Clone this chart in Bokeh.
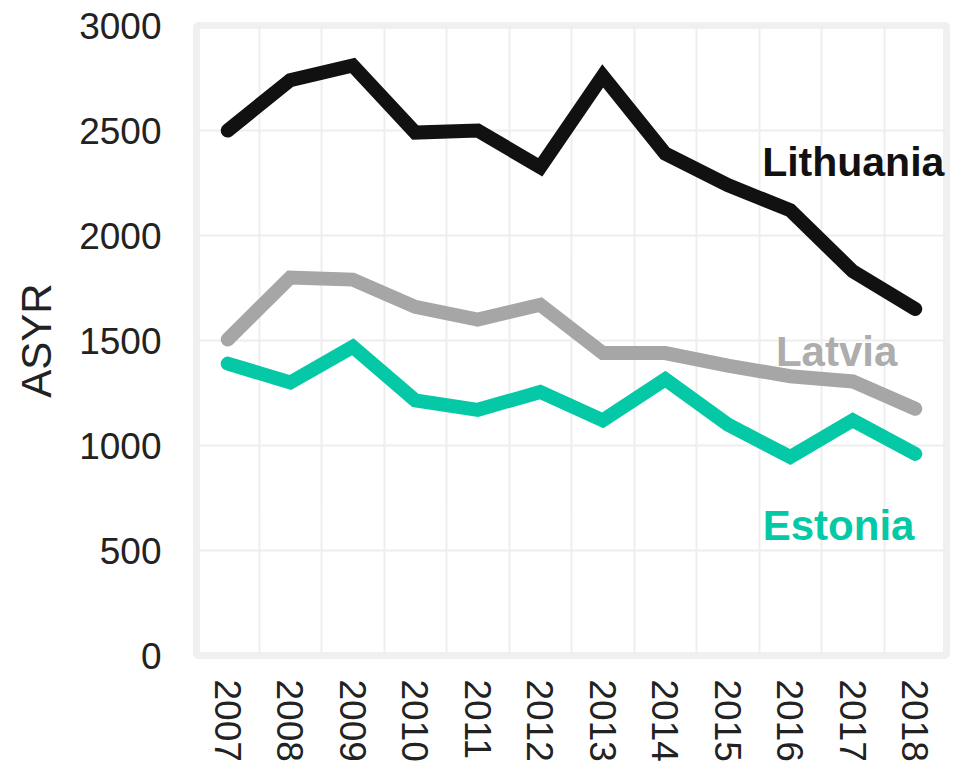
from bokeh.plotting import figure
from bokeh.models import Range1d, FixedTicker, Label
from bokeh.embed import file_html
from bokeh.resources import INLINE

years = [2007, 2008, 2009, 2010, 2011, 2012, 2013, 2014, 2015, 2016, 2017, 2018]
lithuania = [2500, 2740, 2810, 2490, 2500, 2325, 2760, 2390, 2240, 2120, 1830, 1650]
latvia = [1505, 1800, 1790, 1660, 1600, 1670, 1440, 1440, 1380, 1330, 1305, 1175]
estonia = [1390, 1300, 1470, 1215, 1170, 1255, 1120, 1315, 1100, 945, 1120, 960]
y_ticks = [0, 500, 1000, 1500, 2000, 2500, 3000]

FONT = "Liberation Sans"

p = figure(frame_width=750, frame_height=630, output_backend="svg",
           toolbar_location=None,
           x_range=Range1d(years[0] - 0.5, years[-1] + 0.5),
           y_range=Range1d(y_ticks[0], y_ticks[-1]))
p.margin = (0, 0, 0, 10)
p.min_border_top = 25
p.min_border_right = 22
p.min_border_left = 0
p.min_border_bottom = 0
p.background_fill_color = "white"
p.border_fill_color = "white"
p.outline_line_color = "#f0f0f0"
p.outline_line_width = 7

p.xaxis.ticker = FixedTicker(ticks=years)
p.yaxis.ticker = FixedTicker(ticks=y_ticks)
p.xgrid.ticker = FixedTicker(ticks=[y + 0.5 for y in years[:-1]])
p.ygrid.ticker = FixedTicker(ticks=y_ticks)
for g in (p.xgrid, p.ygrid):
    g.grid_line_color = "#eeeeee"
    g.grid_line_width = 2

for ax in (p.xaxis, p.yaxis):
    ax.axis_line_color = None
    ax.major_tick_line_color = None
    ax.minor_tick_line_color = None
    ax.major_label_text_font = FONT
    ax.major_label_text_font_size = "37px"
    ax.major_label_text_color = "#222222"

p.xaxis.major_label_orientation = "vertical"
p.xaxis.major_label_standoff = 18
p.yaxis.major_label_standoff = 29
p.yaxis.axis_label = "ASYR"
p.yaxis.axis_label_text_font = FONT
p.yaxis.axis_label_text_font_size = "42px"
p.yaxis.axis_label_text_font_style = "normal"
p.yaxis.axis_label_text_color = "#222222"
p.yaxis.axis_label_standoff = 16

series = [(lithuania, "#111111"), (latvia, "#a6a6a6"), (estonia, "#05c9a6")]
for vals, col in series:
    p.line(years, vals, line_color=col, line_width=14, line_cap="round", line_join="miter")

labels = [("Lithuania", "#111111", 2015.55, 2352, "41px"),
          ("Latvia", "#adadad", 2015.77, 1448, "42px"),
          ("Estonia", "#05c9a6", 2015.56, 619, "42px")]
for txt, col, x, y, fs in labels:
    p.add_layout(Label(x=x, y=y, text=txt, text_color=col, text_font=FONT,
                       text_font_size=fs, text_font_style="bold",
                       text_baseline="alphabetic", text_align="left"))

open("out.html", "w").write(file_html(p, INLINE))
